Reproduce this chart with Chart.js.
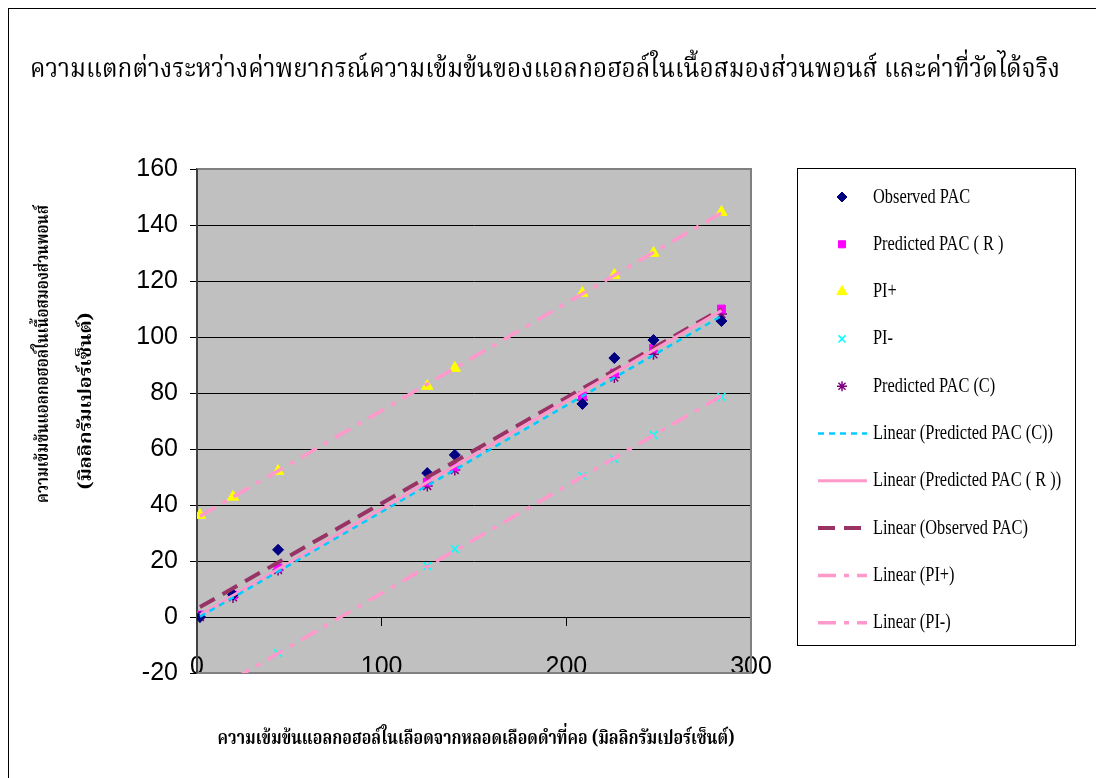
<!DOCTYPE html>
<html>
<head>
<meta charset="utf-8">
<script src="https://cdn.jsdelivr.net/npm/chart.js@4.4.1/dist/chart.umd.min.js"></script>
<style>
  html, body { margin: 0; padding: 0; background: #ffffff; }
  #wrap { position: relative; width: 1096px; height: 778px; }
</style>
</head>
<body>
<div id="wrap"><canvas id="chart" width="1096" height="778"></canvas></div>
<script>
// Blood alcohol (jugular vein) vs. pons alcohol, mg%
const bloodAlcohol   = [1.6, 19.5, 43.9, 124.7, 139.6, 208.7, 226.0, 247.2, 284.0];
const observedPAC    = [0.0, 8.0, 24.0, 51.4, 57.9, 76.1, 92.5, 98.9, 105.7];
const predictedPAC_R = [0.7, 7.8, 17.5, 48.2, 53.6, 79.0, 87.1, 96.0, 110.0];
const predictedPAC_C = [0.0, 7.0, 16.8, 46.8, 52.5, 77.5, 85.5, 93.8, 108.2];
const piPlus         = [36.4, 42.9, 52.1, 82.5, 88.9, 115.7, 122.1, 130.0, 144.6];
const piMinus        = [-29.6, -22.4, -12.9, 18.2, 24.3, 50.4, 56.4, 65.0, 78.6];

const xTicks = [0, 100, 200, 300];
const yTicks = [-20, 0, 20, 40, 60, 80, 100, 120, 140, 160];

const titleText  = 'ความแตกต่างระหว่างค่าพยากรณ์ความเข้มข้นของแอลกอฮอล์ในเนื้อสมองส่วนพอนส์ และค่าที่วัดได้จริง';
const xTitleText = 'ความเข้มข้นแอลกอฮอล์ในเลือดจากหลอดเลือดดำที่คอ (มิลลิกรัมเปอร์เซ็นต์)';
const yTitleLine1 = 'ความเข้มข้นแอลกอฮอล์ในเนื้อสมองส่วนพอนส์';
const yTitleLine2 = '(มิลลิกรัมเปอร์เซ็นต์)';

const THAI = "'Noto Serif Thai','Noto Sans Thai','Tlwg Typo','Loma','Garuda',serif";

// pick a narrow sans for the axis numbers when it exists
function hasFont(name) {
  const c = document.createElement('canvas').getContext('2d');
  c.font = "40px monospace"; const a = c.measureText('160 -20 300').width;
  c.font = "40px '" + name + "', monospace"; const b = c.measureText('160 -20 300').width;
  return Math.abs(a - b) > 0.5;
}
const narrow = hasFont('Liberation Sans Narrow');
const tickFont = narrow
  ? { family: "'Liberation Sans Narrow', 'Liberation Sans', Arial, sans-serif", size: 28 }
  : { family: "'Liberation Sans', Arial, sans-serif", size: 25 };

const pts = ys => bloodAlcohol.map((x, i) => ({ x: x, y: ys[i] }));

// least-squares trend line across the x range of the series
function trend(ys) {
  const n = bloodAlcohol.length;
  let sx = 0, sy = 0;
  for (let i = 0; i < n; i++) { sx += bloodAlcohol[i]; sy += ys[i]; }
  const mx = sx / n, my = sy / n;
  let sxy = 0, sxx = 0;
  for (let i = 0; i < n; i++) {
    sxy += (bloodAlcohol[i] - mx) * (ys[i] - my);
    sxx += (bloodAlcohol[i] - mx) ** 2;
  }
  const b = sxy / sxx, a = my - b * mx;
  const x0 = Math.min(...bloodAlcohol), x1 = Math.max(...bloodAlcohol);
  return [{ x: x0, y: a + b * x0 }, { x: x1, y: a + b * x1 }];
}

const marker = (label, data, style, color, r, bw) => ({
  label, data: pts(data), showLine: false, order: 2,
  pointStyle: style, pointRadius: r, pointHoverRadius: r,
  backgroundColor: color, borderColor: color, pointBorderWidth: bw
});
const trendLine = (label, data, color, width, dash) => ({
  label, data: trend(data), showLine: true, order: 1,
  pointRadius: 0, pointHoverRadius: 0, borderColor: color, backgroundColor: color,
  borderWidth: width, borderDash: dash, fill: false
});

const datasets = [
  marker('Observed PAC', observedPAC, 'rectRot', '#000080', 5.5, 1),
  marker('Predicted PAC ( R )', predictedPAC_R, 'rect', '#FF00FF', 5.5, 1),
  marker('PI+', piPlus, 'triangle', '#FFFF00', 6.5, 1),
  marker('PI-', piMinus, 'crossRot', '#00FFFF', 5.5, 1.5),
  marker('Predicted PAC (C)', predictedPAC_C, 'star', '#800080', 5.5, 1.5),
  trendLine('Linear (Predicted PAC (C))', predictedPAC_C, '#00CCFF', 2.5, [6, 5]),
  trendLine('Linear (Predicted PAC ( R ))', predictedPAC_R, '#FF99CC', 3, []),
  trendLine('Linear (Observed PAC)', observedPAC, '#993366', 4, [17, 9]),
  trendLine('Linear (PI+)', piPlus, '#FF99CC', 3.5, [18, 8, 5, 8]),
  trendLine('Linear (PI-)', piMinus, '#FF99CC', 3.5, [18, 8, 5, 8])
];

function drawFitted(ctx, text, cx, cy, width, font, rot) {
  ctx.save();
  ctx.font = font;
  const w = ctx.measureText(text).width;
  ctx.translate(cx, cy);
  if (rot) ctx.rotate(rot);
  ctx.scale(width / w, 1);
  ctx.textAlign = 'center';
  ctx.textBaseline = 'middle';
  ctx.fillStyle = '#000';
  ctx.fillText(text, 0, 0);
  ctx.restore();
}

const frame = {
  id: 'frame',
  beforeDraw(chart) {
    const { ctx, chartArea: a } = chart;
    ctx.save();
    ctx.fillStyle = '#ffffff';
    ctx.fillRect(0, 0, chart.width, chart.height);
    ctx.strokeStyle = '#000';
    ctx.lineWidth = 1;
    ctx.strokeRect(8.5, 8.5, 1300, 1300);
    ctx.fillStyle = '#C0C0C0';
    ctx.fillRect(a.left, a.top, a.right - a.left, a.bottom - a.top);
    ctx.restore();
  },
  beforeDatasetsDraw(chart) {
    const { ctx, chartArea: a } = chart;
    ctx.save();
    ctx.strokeStyle = '#808080';
    ctx.lineWidth = 2;
    ctx.beginPath();
    ctx.moveTo(a.left, a.top); ctx.lineTo(a.right, a.top);
    ctx.lineTo(a.right, a.bottom); ctx.lineTo(a.left, a.bottom);
    ctx.stroke();
    ctx.strokeStyle = '#404040';
    ctx.beginPath();
    ctx.moveTo(a.left, a.top); ctx.lineTo(a.left, a.bottom);
    ctx.stroke();
    ctx.restore();
  },
  afterDraw(chart) {
    const ctx = chart.ctx;
    drawFitted(ctx, titleText, 545, 73, 1030, '26px ' + THAI);
    drawFitted(ctx, xTitleText, 476, 741, 517, 'bold 20px ' + THAI);
    drawFitted(ctx, yTitleLine1, 45, 354, 298, 'bold 18px ' + THAI, -Math.PI / 2);
    drawFitted(ctx, yTitleLine2, 88, 401, 177, 'bold 18px ' + THAI, -Math.PI / 2);

    // legend panel
    ctx.save();
    ctx.strokeStyle = '#000';
    ctx.lineWidth = 1;
    ctx.strokeRect(797.5, 168.5, 278, 477);
    const y0 = 197, step = 47.3;
    chart.data.datasets.forEach((ds, i) => {
      const y = y0 + i * step;
      if (ds.showLine) {
        ctx.save();
        ctx.strokeStyle = ds.borderColor;
        ctx.lineWidth = ds.borderWidth;
        ctx.setLineDash(ds.borderDash || []);
        ctx.beginPath();
        ctx.moveTo(818, y); ctx.lineTo(867, y);
        ctx.stroke();
        ctx.restore();
      } else {
        ctx.save();
        ctx.fillStyle = ds.backgroundColor;
        ctx.strokeStyle = ds.borderColor;
        ctx.lineWidth = ds.pointBorderWidth;
        Chart.helpers.drawPoint(ctx, {
          pointStyle: ds.pointStyle, radius: ds.pointRadius - 0.5, rotation: 0, borderWidth: ds.pointBorderWidth
        }, 842, y);
        ctx.restore();
      }
      ctx.save();
      ctx.font = "21px 'Liberation Serif', 'Times New Roman', serif";
      ctx.fillStyle = '#000';
      ctx.textBaseline = 'middle';
      ctx.translate(873, y);
      ctx.scale(0.78, 1);
      ctx.fillText(ds.label, 0, 0);
      ctx.restore();
    });
    ctx.restore();
  }
};

new Chart(document.getElementById('chart'), {
  type: 'scatter',
  data: { datasets },
  options: {
    responsive: false,
    animation: false,
    devicePixelRatio: 1,
    layout: { padding: { left: 0, top: 169, right: 345, bottom: 105 } },
    plugins: { legend: { display: false }, tooltip: { enabled: false }, title: { display: false } },
    scales: {
      x: {
        type: 'linear',
        position: { y: 0 },
        min: 0, max: 300,
        afterBuildTicks(scale) { scale.ticks = xTicks.map(v => ({ value: v })); },
        afterFit(scale) { scale.height = 0; },
        grid: { drawOnChartArea: false, drawTicks: true, tickLength: 8, color: '#000', lineWidth: 1 },
        border: { display: true, color: '#000', width: 1 },
        ticks: { color: '#000', font: tickFont, padding: 27, maxRotation: 0, autoSkip: false }
      },
      y: {
        type: 'linear',
        position: 'left',
        min: -20, max: 160,
        afterBuildTicks(scale) { scale.ticks = yTicks.map(v => ({ value: v })); },
        afterFit(scale) { scale.width = 197; },
        grid: { color: '#000', lineWidth: 1, tickLength: 7, drawTicks: true },
        border: { display: true, color: '#404040', width: 2 },
        ticks: { color: '#000', font: tickFont, padding: 12, autoSkip: false }
      }
    }
  },
  plugins: [frame]
});
</script>
</body>
</html>
